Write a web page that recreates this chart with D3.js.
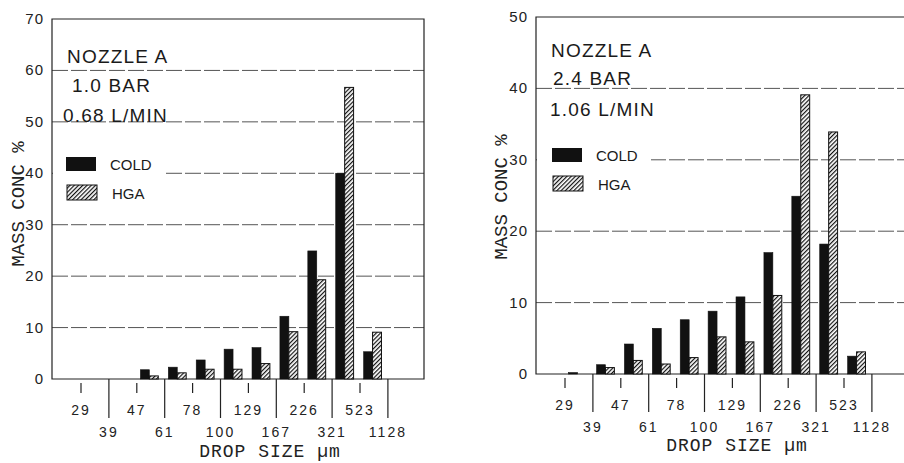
<!DOCTYPE html>
<html>
<head>
<meta charset="utf-8">
<script src="https://cdn.jsdelivr.net/npm/d3@7"></script>
<style>
  body{margin:0;background:#fff;}
  svg{display:block;font-family:"Liberation Sans",Arial,sans-serif;}
</style>
</head>
<body>
<div id="container"></div>
<script>
// drop size class edges, um
var sizes = ["29","39","47","61","78","100","129","167","226","321","523","1128"];

// mass conc % per class (29-39 ... 523-1128)
var coldA = [0, 0, 1.8, 2.3, 3.7, 5.8, 6.1, 12.2, 24.9, 40.0, 5.3],
  hgaA = [0, 0, 0.6, 1.2, 1.9, 1.9, 3.0, 9.2, 19.3, 56.7, 9.1];
var coldB = [0.2, 1.3, 4.2, 6.4, 7.6, 8.8, 10.8, 17.0, 24.9, 18.2, 2.5],
  hgaB = [0, 0.9, 1.9, 1.4, 2.3, 5.2, 4.5, 11.0, 39.1, 33.9, 3.1];

var notesA = ["NOZZLE A", "1.0 BAR", "0.68 L/MIN"],
  notesB = ["NOZZLE A", "2.4 BAR", "1.06 L/MIN"];
var yTicksA = [0,10,20,30,40,50,60,70],
  yTicksB = [0,10,20,30,40,50];

var width = 904, height = 463;

var svg = d3.select("#container").append("svg")
  .attr("width",width).attr("height",height);

var defs = svg.append("defs");
defs.append("pattern")
  .attr("id","hatch")
  .attr("patternUnits","userSpaceOnUse")
  .attr("width",3).attr("height",3)
  .attr("patternTransform","rotate(45)")
  .call(function(p){
    p.append("rect").attr("width",3).attr("height",3).attr("fill","#fff");
    p.append("line").attr("x1",0.6).attr("y1",0).attr("x2",0.6).attr("y2",3)
      .attr("stroke","#111").attr("stroke-width",1.2);
  });

function drawChart(o){
  var g = svg.append("g");
  var x = d3.scaleLinear().domain([0,1]).range([o.left+29, o.left+29+27.9]);
  var y = d3.scaleLinear().domain([0,o.ymax]).range([o.bottom,o.top]);
  var right = o.left + 372;

  // grid
  g.selectAll("line.grid")
    .data(o.yticks.filter(function(d){ return d > 0 && d < o.ymax; }))
    .enter().append("line")
    .attr("x1",o.left).attr("x2",right)
    .attr("y1",function(d){ return y(d); }).attr("y2",function(d){ return y(d); })
    .attr("stroke","#555").attr("stroke-width",1)
    .attr("stroke-dasharray","16,3");

  // frame
  g.append("path")
    .attr("d","M"+o.left+","+o.bottom+"V"+o.top+"H"+right+"V"+o.bottom+"Z")
    .attr("fill","none").attr("stroke","#222").attr("stroke-width",1.2);

  // white box behind legend
  g.append("rect")
    .attr("x",o.left+1).attr("y",o.legend[1]-12)
    .attr("width",o.legendW).attr("height",52)
    .attr("fill","#fff");

  // y tick labels
  g.selectAll("text.ytick").data(o.yticks).enter().append("text")
    .attr("x",o.left-8).attr("y",function(d){ return y(d)+5; })
    .attr("text-anchor","end").attr("font-size",15)
    .attr("letter-spacing",1).attr("fill","#222")
    .text(function(d){ return d; });

  // bars
  var rows = o.cold.map(function(c,i){ return {i:i, cold:c, hga:o.hga[i]}; });
  g.selectAll("rect.cold").data(rows).enter().append("rect")
    .attr("x",function(d){ return x(d.i+0.13); })
    .attr("width",x(0.45)-x(0.13))
    .attr("y",function(d){ return y(d.cold); })
    .attr("height",function(d){ return o.bottom-y(d.cold); })
    .attr("fill","#111").attr("stroke","#111").attr("stroke-width",0.6);
  g.selectAll("rect.hga").data(rows).enter().append("rect")
    .attr("x",function(d){ return x(d.i+0.45); })
    .attr("width",x(0.77)-x(0.45))
    .attr("y",function(d){ return y(d.hga); })
    .attr("height",function(d){ return o.bottom-y(d.hga); })
    .attr("fill","url(#hatch)").attr("stroke","#111").attr("stroke-width",1)
    .attr("display",function(d){ return d.hga > 0 ? null : "none"; });

  // x ticks: short ones under the upper labels, long ones for the lower row
  g.selectAll("line.xtick").data(sizes).enter().append("line")
    .attr("x1",function(d,i){ return x(i); }).attr("x2",function(d,i){ return x(i); })
    .attr("y1",function(d,i){ return i%2 ? o.bottom : o.bottom+4; })
    .attr("y2",function(d,i){ return i%2 ? o.bottom+o.longTick : o.bottom+14; })
    .attr("stroke","#222").attr("stroke-width",1.2);
  g.selectAll("text.xtick").data(sizes).enter().append("text")
    .attr("x",function(d,i){ return x(i); })
    .attr("y",function(d,i){ return i%2 ? o.row2 : o.row1; })
    .attr("text-anchor","middle").attr("font-size",14)
    .attr("letter-spacing",2).attr("fill","#222")
    .text(function(d){ return d; });

  // axis titles
  g.append("text")
    .attr("x",o.xTitle[0]).attr("y",o.xTitle[1])
    .attr("text-anchor","middle")
    .attr("font-family","'Liberation Mono',monospace").attr("font-size",18)
    .attr("letter-spacing",1).attr("fill","#222")
    .text("DROP SIZE \u00b5m");
  g.append("text")
    .attr("transform","translate("+o.yTitle[0]+","+o.yTitle[1]+") rotate(-90)")
    .attr("text-anchor","middle")
    .attr("font-family","'Liberation Mono',monospace").attr("font-size",19)
    .attr("fill","#222")
    .text("MASS CONC %");

  // notes
  g.selectAll("text.note").data(o.notes).enter().append("text")
    .attr("x",function(d,i){ return o.noteAt[i][0]; })
    .attr("y",function(d,i){ return o.noteAt[i][1]; })
    .attr("font-size",19).attr("letter-spacing",1.2).attr("fill","#1a1a1a")
    .text(function(d){ return d; });

  // legend
  var lx = o.legend[0], ly = o.legend[1];
  g.append("rect").attr("x",lx).attr("y",ly).attr("width",30).attr("height",14)
    .attr("fill","#111");
  g.append("rect").attr("x",lx+1).attr("y",ly+28).attr("width",30).attr("height",15)
    .attr("fill","url(#hatch)").attr("stroke","#111").attr("stroke-width",1);
  g.append("text").attr("x",lx+44).attr("y",ly+13).attr("font-size",15)
    .attr("fill","#1a1a1a").text("COLD");
  g.append("text").attr("x",lx+46).attr("y",ly+42).attr("font-size",15)
    .attr("fill","#1a1a1a").text("HGA");
}

drawChart({
  left:52, top:19, bottom:379, ymax:70, yticks:yTicksA,
  cold:coldA, hga:hgaA, longTick:39, row1:415, row2:437,
  xTitle:[270,457], yTitle:[24,204],
  notes:notesA, noteAt:[[67,63],[72,92],[63,122]],
  legend:[66,157], legendW:113
});
drawChart({
  left:536, top:17, bottom:374, ymax:50, yticks:yTicksB,
  cold:coldB, hga:hgaB, longTick:38, row1:410, row2:432,
  xTitle:[737,451], yTitle:[507,197],
  notes:notesB, noteAt:[[551,57],[553,85],[550,116]],
  legend:[552,148], legendW:114
});
</script>
</body>
</html>
